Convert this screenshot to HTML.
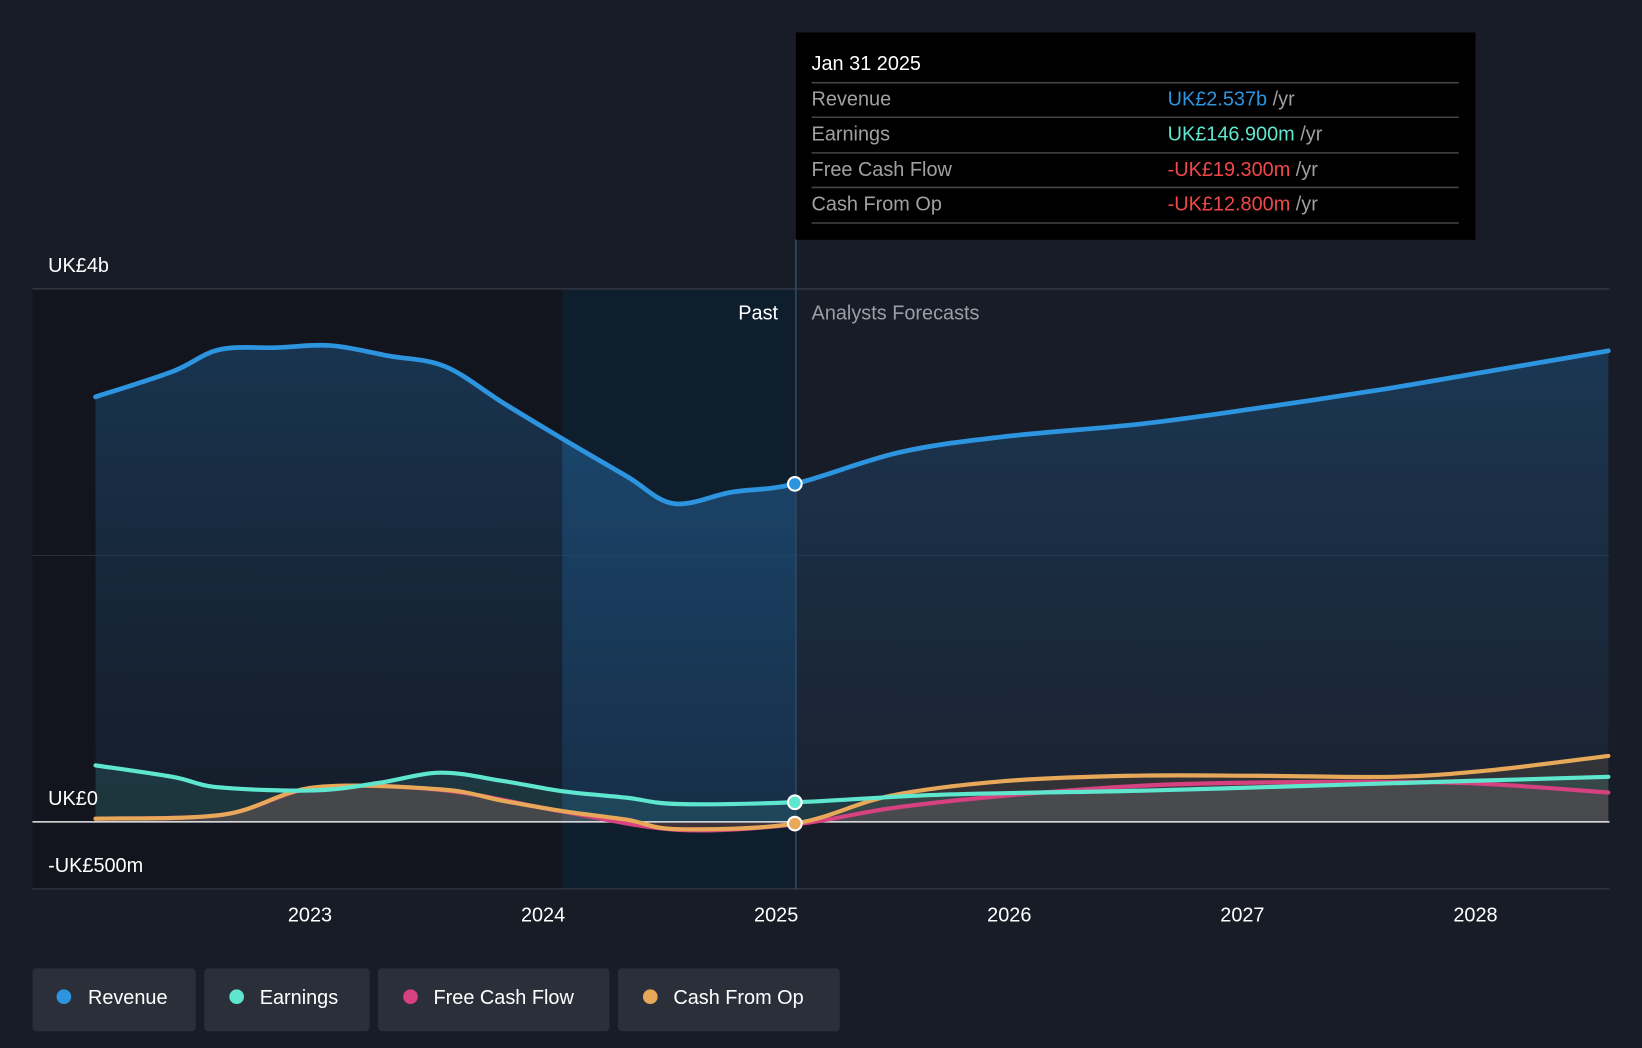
<!DOCTYPE html>
<html><head><meta charset="utf-8"><style>
html,body{margin:0;padding:0;background:#181c26;}
svg{display:block;font-family:"Liberation Sans",Arial,sans-serif;}
</style></head><body>
<svg id="chart" width="1642" height="1048" viewBox="0 0 1568 1001" preserveAspectRatio="none" xmlns="http://www.w3.org/2000/svg">
<defs>
<linearGradient id="revGrad" x1="0" y1="0" x2="0" y2="1"><stop offset="0" stop-color="#1e4e7a" stop-opacity="0.55"/><stop offset="1" stop-color="#1e3550" stop-opacity="0.25"/></linearGradient>
<linearGradient id="revGradPast" x1="0" y1="0" x2="0" y2="1"><stop offset="0" stop-color="#1f5a8c" stop-opacity="0.55"/><stop offset="1" stop-color="#1a3a5c" stop-opacity="0.5"/></linearGradient>
<clipPath id="pastClip"><rect x="537" y="0" width="223" height="1001"/></clipPath>
</defs>
<rect width="1568" height="1001" fill="#181c26"/>
<rect x="31" y="276" width="506" height="573" fill="#12151d"/>
<rect x="537" y="276" width="223" height="573" fill="#0f1e2c"/>
<line x1="31" y1="276" x2="1537" y2="276" stroke="#3a3f4a" stroke-width="1"/>
<line x1="31" y1="530.5" x2="1537" y2="530.5" stroke="#2c313c" stroke-width="1"/>
<line x1="31" y1="849" x2="1537" y2="849" stroke="#3a3f4a" stroke-width="1"/>
<g id="areas"></g>
<line x1="31" y1="785" x2="1537" y2="785" stroke="#e8e8e8" stroke-width="1.5"/>
<line x1="760" y1="228" x2="760" y2="849" stroke="#2c4a66" stroke-width="1.5"/>
<g id="lines"></g>
<text x="46" y="260" fill="#fff" font-size="19">UK£4b</text>
<text x="46" y="769" fill="#fff" font-size="19">UK£0</text>
<text x="46" y="833" fill="#fff" font-size="19">-UK£500m</text>
<text x="743" y="305" fill="#fff" font-size="19" text-anchor="end">Past</text>
<text x="775" y="305" fill="#9a9ea6" font-size="19">Analysts Forecasts</text>
<g id="xticks"></g>
<g>
<rect x="760" y="31" width="649" height="198" fill="#000"/>
<text x="775" y="67" fill="#fff" font-size="19">Jan 31 2025</text>
<line x1="775" y1="79" x2="1393" y2="79" stroke="#444" stroke-width="1.5"/>
<text x="775" y="101" fill="#a0a0a0" font-size="19">Revenue</text>
<text x="1115" y="101" font-size="19" fill="#2d94e0">UK£2.537b <tspan fill="#a0a0a0">/yr</tspan></text>
<line x1="775" y1="112" x2="1393" y2="112" stroke="#444" stroke-width="1.5"/>
<text x="775" y="134" fill="#a0a0a0" font-size="19">Earnings</text>
<text x="1115" y="134" font-size="19" fill="#5ee6cf">UK£146.900m <tspan fill="#a0a0a0">/yr</tspan></text>
<line x1="775" y1="146" x2="1393" y2="146" stroke="#444" stroke-width="1.5"/>
<text x="775" y="168" fill="#a0a0a0" font-size="19">Free Cash Flow</text>
<text x="1115" y="168" font-size="19" fill="#f04848">-UK£19.300m <tspan fill="#a0a0a0">/yr</tspan></text>
<line x1="775" y1="179" x2="1393" y2="179" stroke="#444" stroke-width="1.5"/>
<text x="775" y="201" fill="#a0a0a0" font-size="19">Cash From Op</text>
<text x="1115" y="201" font-size="19" fill="#f04848">-UK£12.800m <tspan fill="#a0a0a0">/yr</tspan></text>
<line x1="775" y1="213" x2="1393" y2="213" stroke="#444" stroke-width="1.5"/>
</g>
<g font-size="19">
<g><rect x="31" y="925" width="156" height="60" rx="4" fill="#2a2f3a"/><circle cx="61" cy="952" r="7" fill="#2d94e0"/><text x="84" y="959" fill="#fff">Revenue</text></g>
<g><rect x="195" y="925" width="158" height="60" rx="4" fill="#2a2f3a"/><circle cx="226" cy="952" r="7" fill="#5ee6cf"/><text x="248" y="959" fill="#fff">Earnings</text></g>
<g><rect x="361" y="925" width="221" height="60" rx="4" fill="#2a2f3a"/><circle cx="392" cy="952" r="7" fill="#d6417f"/><text x="414" y="959" fill="#fff">Free Cash Flow</text></g>
<g><rect x="590" y="925" width="212" height="60" rx="4" fill="#2a2f3a"/><circle cx="621" cy="952" r="7" fill="#e8a85a"/><text x="643" y="959" fill="#fff">Cash From Op</text></g>
</g>
</svg>
<script>
const revYears=[2022.08,2022.41,2022.61,2022.86,2023.09,2023.34,2023.58,2023.83,2024.09,2024.36,2024.56,2024.81,2025.08,2025.53,2025.98,2026.56,2027.06,2027.60,2028.05,2028.57];
const revenue=[3190,3380,3544,3560,3575,3497,3418,3143,2868,2593,2389,2475,2537,2774,2892,2986,3104,3246,3380,3536];
const earnYears=[2022.08,2022.41,2022.61,2023.02,2023.29,2023.56,2023.83,2024.09,2024.36,2024.58,2025.08,2025.71,2026.61,2027.51,2028.57];
const earnings=[424,338,259,236,291,369,306,228,181,134,147,204,236,283,338];
const fcfYears=[2022.08,2022.63,2023.02,2023.56,2024.09,2024.58,2025.08,2025.49,2025.98,2026.61,2027.29,2027.96,2028.57];
const fcf=[24,55,255,240,75,-60,-19,102,196,275,299,291,220];
const cfoYears=[2022.08,2022.63,2023.02,2023.56,2023.83,2024.09,2024.36,2024.58,2025.08,2025.49,2025.98,2026.52,2027.06,2027.64,2028.05,2028.57];
const cfo=[24,55,259,244,157,79,16,-55,-13,196,306,346,346,338,385,495];
const tickYears=[2023,2024,2025,2026,2027,2028];
const tickLabels=["2023","2024","2025","2026","2027","2028"];
const NOW=2025.08;
const xS=y=>296+(y-2023)*222.6;
const yS=v=>785-v*509/4000;
const NS="http://www.w3.org/2000/svg";
function pathD(xs,vs){
  const p=xs.map((x,i)=>[xS(x),yS(vs[i])]);
  let d="M"+p[0][0]+","+p[0][1];
  for(let i=0;i<p.length-1;i++){
    const p0=p[i-1]||p[i],p1=p[i],p2=p[i+1],p3=p[i+2]||p2;
    const c1x=p1[0]+(p2[0]-p0[0])/6,c1y=p1[1]+(p2[1]-p0[1])/6;
    const c2x=p2[0]-(p3[0]-p1[0])/6,c2y=p2[1]-(p3[1]-p1[1])/6;
    d+=` C${c1x},${c1y} ${c2x},${c2y} ${p2[0]},${p2[1]}`;
  }
  return d;
}
function closeArea(d,xs){return d+` L${xS(xs[xs.length-1])},785 L${xS(xs[0])},785 Z`;}
const areas=document.getElementById('areas'),lines=document.getElementById('lines');
function mk(tag,attrs,parent){const e=document.createElementNS(NS,tag);for(const k in attrs)e.setAttribute(k,attrs[k]);parent.appendChild(e);return e;}
const revD=pathD(revYears,revenue);
const ra=mk('path',{d:closeArea(revD,revYears),fill:'url(#revGrad)'},areas);


const rap=mk('path',{d:closeArea(revD,revYears),fill:'url(#revGradPast)','clip-path':'url(#pastClip)'},areas);


const series=[
 {xs:fcfYears,vs:fcf,c:'#d6417f',n:'free-cash-flow'},
 {xs:cfoYears,vs:cfo,c:'#e8a85a',n:'cash-from-op'},
 {xs:earnYears,vs:earnings,c:'#5ee6cf',n:'earnings'},
 {xs:revYears,vs:revenue,c:'#2d94e0',n:'revenue'}];
series.forEach(s=>{
  const d=pathD(s.xs,s.vs);
  if(s.n!=='revenue'){
    const a=mk('path',{d:closeArea(d,s.xs),fill:s.c,'fill-opacity':0.12},areas);
    
    
  }
  const l=mk('path',{d:d,fill:'none',stroke:s.c,'stroke-width':s.n==='revenue'?4.5:4,'stroke-linecap':'round'},lines);
  
  
});
[[revenue,revYears,'#2d94e0','revenue'],[earnings,earnYears,'#5ee6cf','earnings'],[cfo,cfoYears,'#e8a85a','cash-from-op']].forEach(([vs,xs,c,n])=>{
  const i=xs.indexOf(NOW);
  const m=mk('circle',{cx:xS(NOW),cy:yS(vs[i]),r:6.5,fill:c,stroke:'#fff','stroke-width':2},lines);
  
  
});
const xt=document.getElementById('xticks');
tickYears.forEach((y,i)=>{
  const t=mk('text',{x:xS(y),y:880,fill:'#fff','font-size':19,'text-anchor':'middle'},xt);
  t.textContent=tickLabels[i];
  
  
});
</script>
</body></html>
